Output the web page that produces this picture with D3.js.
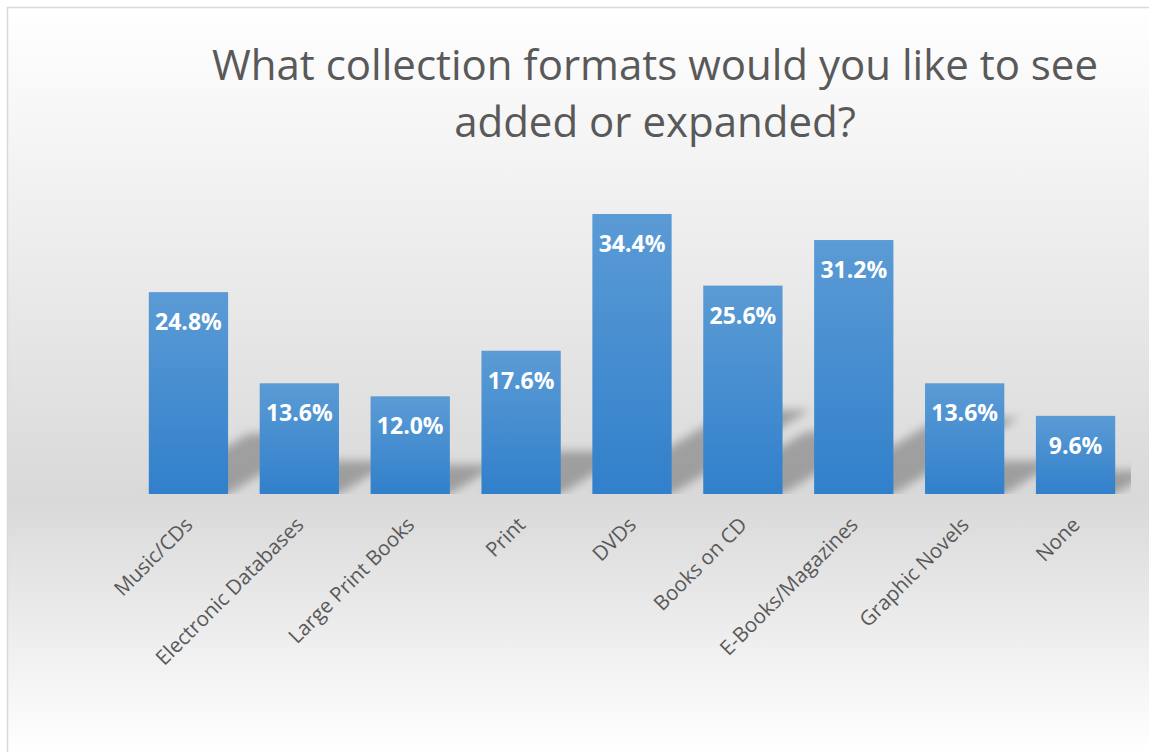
<!DOCTYPE html>
<html>
<head>
<meta charset="utf-8">
<script src="https://cdn.jsdelivr.net/npm/d3@7"></script>
<style>
  body { margin: 0; background: #fff; }
  svg { display: block; }
</style>
</head>
<body>
<svg id="chart"></svg>
<script>
const categories = ['Music/CDs', 'Electronic Databases', 'Large Print Books', 'Print', 'DVDs',
    'Books on CD', 'E-Books/Magazines', 'Graphic Novels', 'None'];
const values = [24.8, 13.6, 12.0, 17.6, 34.4, 25.6, 31.2, 13.6, 9.6];
const titleLines = ['What collection formats would you like to see', 'added or expanded?'];

const width = 1149;
const height = 752;
const base = 494;

const svg = d3.select('#chart')
    .attr('width', width)
    .attr('height', height);

const defs = svg.append('defs');

// chart area background: white -> gray near the baseline -> white
const bg = defs.append('linearGradient')
    .attr('id', 'bg')
    .attr('gradientUnits', 'userSpaceOnUse')
    .attr('x1', 0).attr('y1', 7).attr('x2', 0).attr('y2', 752);
bg.append('stop').attr('offset', '0%').attr('stop-color', '#ffffff');
bg.append('stop').attr('offset', '66%').attr('stop-color', '#d9d9d9');
bg.append('stop').attr('offset', '100%').attr('stop-color', '#ffffff');

const barGrad = defs.append('linearGradient')
    .attr('id', 'bar')
    .attr('x1', 0).attr('y1', 0).attr('x2', 0).attr('y2', 1);
barGrad.append('stop').attr('offset', '0%').attr('stop-color', '#5b9bd5');
barGrad.append('stop').attr('offset', '100%').attr('stop-color', '#3180cb');

defs.append('filter')
    .attr('id', 'blur')
    .attr('x', '-20%').attr('y', '-20%').attr('width', '140%').attr('height', '140%')
    .append('feGaussianBlur')
    .attr('stdDeviation', 5);

svg.append('rect')
    .attr('x', 7.5).attr('y', 7.5)
    .attr('width', 1160).attr('height', 760)
    .attr('fill', 'url(#bg)')
    .attr('stroke', '#d9d9d9')
    .attr('stroke-width', 1.5);

const xScale = d3.scaleBand()
    .domain(categories)
    .range([133, 1131])
    .paddingInner(0.285)
    .paddingOuter(0.1425);

const yScale = d3.scaleLinear()
    .domain([0, 40])
    .range([base, base - 40 * 8.14]);

defs.append('clipPath')
    .attr('id', 'plot')
    .append('rect')
    .attr('x', 133).attr('y', 100)
    .attr('width', 998).attr('height', base - 100);

// perspective shadows falling to the back right
const skew = 1.65;
const squash = 0.3;
svg.append('g')
    .attr('clip-path', 'url(#plot)')
    .append('g')
    .attr('filter', 'url(#blur)')
    .selectAll('path')
    .data(values)
    .join('path')
    .attr('d', (d, i) => {
        const x0 = xScale(categories[i]);
        const x1 = x0 + xScale.bandwidth();
        const hs = (base - yScale(d)) * squash;
        return `M${x0},${base}L${x1},${base}L${x1 + hs * skew},${base - hs}L${x0 + hs * skew},${base - hs}Z`;
    })
    .attr('fill', 'rgba(0,0,0,0.28)');

svg.append('g')
    .selectAll('rect')
    .data(values)
    .join('rect')
    .attr('x', (d, i) => xScale(categories[i]))
    .attr('y', d => yScale(d))
    .attr('width', xScale.bandwidth())
    .attr('height', d => base - yScale(d))
    .attr('fill', 'url(#bar)');

svg.append('g')
    .selectAll('text')
    .data(values)
    .join('text')
    .attr('x', (d, i) => xScale(categories[i]) + xScale.bandwidth() / 2)
    .attr('y', d => yScale(d) + 38)
    .attr('text-anchor', 'middle')
    .attr('font-family', 'Open Sans, sans-serif')
    .attr('font-weight', 'bold')
    .attr('font-size', 23)
    .attr('fill', '#ffffff')
    .text(d => d.toFixed(1) + '%');

// category labels, rotated
svg.append('g')
    .selectAll('text')
    .data(categories)
    .join('text')
    .attr('transform', d => `translate(${xScale(d) + xScale.bandwidth() / 2 + 5.5},${base + 32}) rotate(-45)`)
    .attr('text-anchor', 'end')
    .attr('font-family', 'Open Sans, sans-serif')
    .attr('font-size', 20.5)
    .attr('fill', '#595959')
    .text(d => d);

svg.append('g')
    .selectAll('text')
    .data(titleLines)
    .join('text')
    .attr('x', 655)
    .attr('y', (d, i) => 80 + i * 57)
    .attr('text-anchor', 'middle')
    .attr('font-family', 'Open Sans, sans-serif')
    .attr('font-size', 42)
    .attr('fill', '#595959')
    .text(d => d);
</script>
</body>
</html>
